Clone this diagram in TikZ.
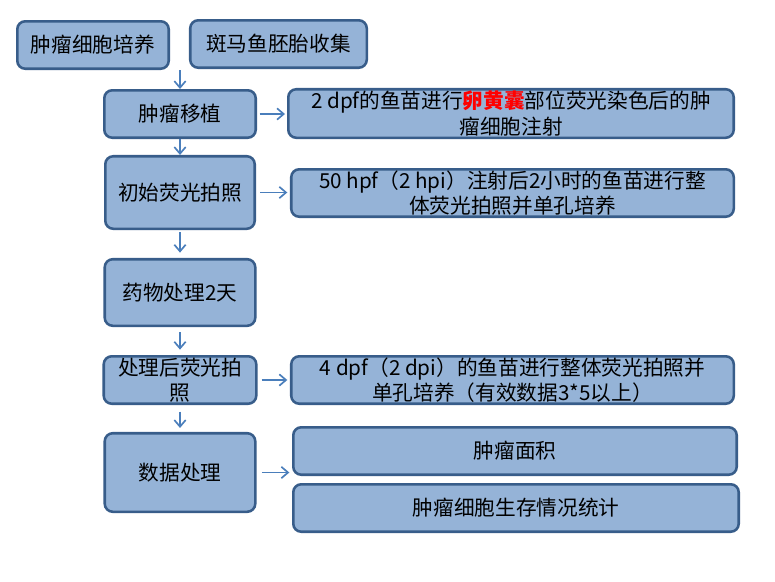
\documentclass[tikz,border=0pt]{standalone}
\usepackage{fontspec}
\setmainfont{Noto Sans CJK SC}
\usepackage{xcolor}
\usetikzlibrary{arrows.meta,positioning,calc}
\definecolor{boxfill}{HTML}{95B3D7}
\definecolor{boxline}{HTML}{385D8A}
\definecolor{arrline}{HTML}{4A7EBB}

\begin{document}
\begin{tikzpicture}[x=0.75pt,y=-0.75pt,
  blk/.style={draw=boxline,line width=1.9pt,rounded corners=6pt,fill=boxfill,
              align=center,inner sep=0.5pt,
              font=\fontsize{15.5}{19}\selectfont},
  arr/.style={-{Straight Barb[length=5pt,width=8.5pt]},line width=1.25pt,arrline}
]
\useasboundingbox[fill=white] (0,0) rectangle (775,582);

% left column
\node[blk,minimum width=113.6pt,minimum height=35.6pt] (culture) at (93,45) {肿瘤细胞培养};
\node[blk,minimum width=132.4pt,minimum height=35.6pt] (embryo) at (278.5,44) {斑马鱼胚胎收集};
\node[blk,minimum width=113.6pt,minimum height=35.6pt] (graft) at (180,114) {肿瘤移植};
\node[blk,minimum width=112.1pt,minimum height=54.4pt] (initial) at (180,192.5) {初始荧光拍照};
\node[blk,minimum width=112.9pt,minimum height=49.9pt] (drug) at (180,292.5) {药物处理2天};
\node[blk,minimum width=114.4pt,minimum height=35.6pt] (after) at (180,380) {处理后荧光拍\\照};
\node[blk,minimum width=112.9pt,minimum height=58.9pt] (data) at (180,472.5) {数据处理};

% right column
\node[blk,minimum width=334.1pt,minimum height=36.4pt] (inject) at (511,113.5)
  {2 dpf的鱼苗进行{\color{red}\bfseries 卵黄囊}部位荧光染色后的肿\\瘤细胞注射};
\node[blk,minimum width=331.9pt,minimum height=35.6pt] (whole) at (512.5,193)
  {50 hpf（2 hpi）注射后2小时的鱼苗进行整\\体荧光拍照并单孔培养};
\node[blk,minimum width=331.9pt,minimum height=35.6pt] (final) at (512.5,380)
  {4 dpf（2 dpi）的鱼苗进行整体荧光拍照并\\单孔培养（有效数据3*5以上）};
\node[blk,minimum width=332.6pt,minimum height=35.6pt] (area) at (515,451) {肿瘤面积};
\node[blk,minimum width=334.1pt,minimum height=35.6pt] (survive) at (516,508) {肿瘤细胞生存情况统计};

% arrows
\coordinate (top) at (180,70);
\draw[arr] (top) -- (graft);
\draw[arr] (graft) -- (initial);
\draw[arr,shorten <=1.5pt,shorten >=4pt] (initial) -- (drug);
\draw[arr,shorten <=4pt,shorten >=4pt] (drug) -- (after);
\draw[arr,shorten <=5pt,shorten >=3pt] (after) -- (data);
\draw[arr,shorten <=2pt,shorten >=1.5pt] (graft.east) -- (graft.east -| inject.west);
\draw[arr,shorten <=3pt,shorten >=2pt] (initial.east) -- (initial.east -| whole.west);
\draw[arr,shorten <=3pt,shorten >=2pt] (after.east) -- (after.east -| final.west);
\draw[arr,shorten <=4pt,shorten >=2pt] (data.east) -- (data.east -| area.west);
\end{tikzpicture}
\end{document}
